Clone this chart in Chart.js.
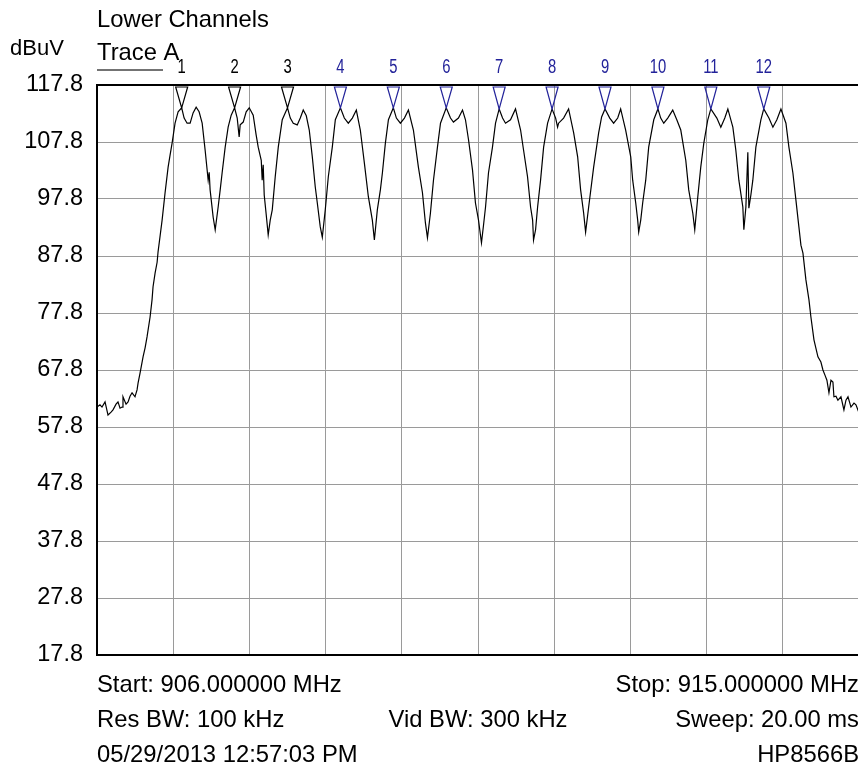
<!DOCTYPE html>
<html>
<head>
<meta charset="utf-8">
<script src="https://cdn.jsdelivr.net/npm/chart.js@4/dist/chart.umd.min.js"></script>
<style>
html, body { margin: 0; padding: 0; background: #fff; overflow: hidden; }
#wrap { position: relative; width: 864px; height: 768px; }
</style>
</head>
<body>
<div id="wrap"><canvas id="spectrumChart" width="864" height="768"></canvas></div>
<script>
// trace A (MHz / dBuV)
const traceFreqs = [
    906.000, 906.035, 906.059, 906.095, 906.130, 906.166, 906.189, 906.225, 906.248, 906.272,
    906.296, 906.307, 906.343, 906.367, 906.390, 906.414, 906.449, 906.473, 906.485, 906.509,
    906.544, 906.568, 906.591, 906.627, 906.650, 906.662, 906.686, 906.710, 906.721, 906.745,
    906.769, 906.804, 906.840, 906.863, 906.887, 906.922, 906.958, 907.000, 907.029, 907.064,
    907.100, 907.135, 907.171, 907.206, 907.242, 907.277, 907.313, 907.325, 907.336, 907.372,
    907.396, 907.431, 907.455, 907.478, 907.514, 907.549, 907.585, 907.625, 907.656, 907.679,
    907.691, 907.727, 907.762, 907.798, 907.845, 907.880, 907.904, 907.940, 907.951, 907.963,
    907.975, 907.999, 908.022, 908.046, 908.070, 908.105, 908.141, 908.188, 908.250, 908.283,
    908.318, 908.365, 908.401, 908.436, 908.472, 908.507, 908.543, 908.578, 908.602, 908.637,
    908.661, 908.696, 908.732, 908.779, 908.815, 908.875, 908.921, 908.968, 909.016, 909.063,
    909.110, 909.158, 909.205, 909.252, 909.276, 909.311, 909.347, 909.371, 909.406, 909.442,
    909.500, 909.536, 909.583, 909.631, 909.678, 909.737, 909.796, 909.844, 909.879, 909.903,
    909.938, 909.974, 910.021, 910.057, 910.125, 910.175, 910.210, 910.269, 910.317, 910.352,
    910.388, 910.435, 910.470, 910.506, 910.541, 910.565, 910.589, 910.624, 910.671, 910.707,
    910.750, 910.790, 910.825, 910.884, 910.943, 911.003, 911.038, 911.085, 911.121, 911.145,
    911.156, 911.180, 911.204, 911.239, 911.275, 911.322, 911.375, 911.417, 911.440, 911.452,
    911.511, 911.570, 911.630, 911.677, 911.712, 911.748, 911.771, 911.807, 911.866, 911.925,
    911.960, 912.000, 912.056, 912.102, 912.150, 912.185, 912.244, 912.304, 912.327, 912.363,
    912.386, 912.398, 912.422, 912.445, 912.481, 912.516, 912.576, 912.625, 912.658, 912.694,
    912.741, 912.800, 912.848, 912.895, 912.954, 912.989, 913.037, 913.060, 913.096, 913.131,
    913.167, 913.214, 913.250, 913.321, 913.368, 913.415, 913.451, 913.510, 913.545, 913.581,
    913.628, 913.640, 913.664, 913.687, 913.699, 913.723, 913.746, 913.782, 913.841, 913.875,
    913.936, 913.983, 914.030, 914.078, 914.137, 914.172, 914.219, 914.255, 914.290, 914.314,
    914.338, 914.373, 914.409, 914.432, 914.468, 914.515, 914.550, 914.574, 914.598, 914.621,
    914.645, 914.669, 914.692, 914.704, 914.728, 914.751, 914.787, 914.822, 914.846, 914.870,
    914.905, 914.941, 914.964, 915.000
];
const traceLevels = [
    61.3, 61.7, 61.3, 62.2, 59.9, 60.4, 60.8, 61.8, 62.2, 61.1,
    61.3, 63.1, 61.8, 62.2, 63.2, 63.8, 63.1, 64.3, 65.5, 67.3,
    70.1, 71.7, 73.6, 77.1, 80.1, 82.4, 84.8, 86.7, 88.5, 91.3,
    94.1, 98.9, 103.4, 105.5, 107.6, 111.1, 113.1, 113.8, 112.0, 111.1,
    111.1, 112.9, 113.9, 113.1, 111.1, 106.4, 101.1, 102.5, 99.4, 94.6,
    92.4, 96.4, 99.4, 102.4, 106.9, 110.4, 112.5, 113.8, 112.0, 108.7,
    110.8, 111.3, 113.1, 113.8, 112.5, 109.0, 106.9, 104.6, 101.1, 103.8,
    98.5, 95.0, 91.5, 94.1, 95.9, 101.7, 106.9, 111.7, 113.8, 112.0,
    111.1, 110.8, 112.0, 113.4, 112.4, 109.9, 105.2, 99.9, 97.1, 92.9,
    91.1, 95.9, 101.7, 106.9, 111.7, 113.8, 112.0, 111.1, 112.0, 113.4,
    109.9, 104.1, 98.2, 94.1, 90.6, 95.9, 99.4, 102.4, 107.6, 111.7,
    113.8, 112.0, 111.1, 112.0, 113.4, 109.9, 103.4, 98.9, 93.6, 91.0,
    95.3, 101.1, 106.9, 111.1, 113.8, 112.0, 111.3, 112.0, 113.4, 111.7,
    108.2, 102.9, 97.1, 94.1, 90.1, 93.2, 96.4, 102.4, 106.9, 111.1,
    113.6, 112.0, 111.1, 111.7, 113.6, 109.9, 106.4, 101.7, 96.4, 94.1,
    90.6, 92.4, 96.4, 101.1, 106.9, 111.1, 113.6, 112.0, 110.4, 111.1,
    112.0, 113.6, 109.4, 105.2, 99.4, 95.3, 92.0, 96.4, 103.4, 109.4,
    112.2, 113.6, 112.0, 111.1, 112.0, 113.6, 109.9, 105.2, 101.1, 97.1,
    94.1, 92.0, 94.1, 97.1, 101.1, 106.9, 111.7, 113.6, 112.0, 111.1,
    112.0, 113.4, 111.7, 109.9, 104.6, 99.4, 95.3, 92.4, 98.2, 103.4,
    107.6, 111.7, 113.6, 112.0, 110.4, 112.0, 113.6, 110.4, 106.4, 101.1,
    96.4, 92.4, 96.4, 106.0, 96.2, 98.5, 101.1, 106.9, 111.7, 113.6,
    112.0, 110.4, 111.7, 113.6, 111.1, 106.9, 102.4, 97.6, 92.9, 89.7,
    88.3, 83.6, 80.1, 77.1, 73.1, 70.1, 69.2, 67.8, 66.9, 66.0,
    63.8, 66.0, 65.7, 63.1, 63.2, 62.5, 63.1, 60.8, 62.5, 63.1,
    61.3, 62.0, 61.7, 60.3
];

const markerNumbers = [1, 2, 3, 4, 5, 6, 7, 8, 9, 10, 11, 12];
const markerFreqs = [907.000, 907.625, 908.250, 908.875, 909.500, 910.125, 910.750, 911.375, 912.000, 912.625, 913.250, 913.875];
const markerLevels = [113.8, 113.8, 113.8, 113.8, 113.8, 113.8, 113.6, 113.6, 113.6, 113.6, 113.6, 113.6];

const yTickValues = [17.8, 27.8, 37.8, 47.8, 57.8, 67.8, 77.8, 87.8, 97.8, 107.8, 117.8];
const xGridFreqs = [906.0, 906.9, 907.8, 908.7, 909.6, 910.5, 911.4, 912.3, 913.2, 914.1, 915.0];

const FONT = "'Liberation Sans', Arial, Helvetica, sans-serif";
const MARKER_BLUE = '#23239a';

const spectrumCtx = document.getElementById('spectrumChart').getContext('2d');

const annotationPlugin = {
    id: 'analyzerText',
    afterDatasetsDraw(chart) {
        const { ctx, chartArea, scales } = chart;
        const x = scales.x;
        const y = scales.y;

        ctx.save();
        // top frame line
        ctx.strokeStyle = '#000';
        ctx.lineWidth = 2;
        ctx.beginPath();
        ctx.moveTo(chartArea.left - 1, chartArea.top);
        ctx.lineTo(chartArea.right, chartArea.top);
        ctx.stroke();

        // markers
        markerFreqs.forEach((f, i) => {
            const px = x.getPixelForValue(f);
            const py = y.getPixelForValue(markerLevels[i]);
            const color = i < 3 ? '#000' : MARKER_BLUE;
            ctx.strokeStyle = color;
            ctx.lineWidth = 1.2;
            ctx.beginPath();
            ctx.moveTo(px - 6, chartArea.top + 2);
            ctx.lineTo(px + 6, chartArea.top + 2);
            ctx.lineTo(px, py);
            ctx.closePath();
            ctx.stroke();

            ctx.save();
            ctx.fillStyle = color;
            ctx.font = '20px ' + FONT;
            ctx.textAlign = 'center';
            ctx.textBaseline = 'alphabetic';
            ctx.translate(px, 73);
            ctx.scale(0.74, 1);
            ctx.fillText(String(markerNumbers[i]), 0, 0);
            ctx.restore();
        });

        // header and footer text
        ctx.fillStyle = '#000';
        ctx.textBaseline = 'alphabetic';
        ctx.textAlign = 'left';
        ctx.font = '23.8px ' + FONT;
        ctx.fillText('Lower Channels', chartArea.left, 27);
        ctx.fillText('Trace A', chartArea.left, 60);
        ctx.font = '22px ' + FONT;
        ctx.fillText('dBuV', 10, 55);

        ctx.strokeStyle = '#444';
        ctx.lineWidth = 1.5;
        ctx.beginPath();
        ctx.moveTo(chartArea.left, 70);
        ctx.lineTo(chartArea.left + 66, 70);
        ctx.stroke();

        ctx.font = '23.8px ' + FONT;
        const right = chartArea.right;
        const mid = (chartArea.left + chartArea.right) / 2;
        ctx.fillText('Start: 906.000000 MHz', chartArea.left, 692);
        ctx.fillText('Res BW: 100 kHz', chartArea.left, 727);
        ctx.fillText('05/29/2013 12:57:03 PM', chartArea.left, 762);
        ctx.textAlign = 'center';
        ctx.fillText('Vid BW: 300 kHz', mid, 727);
        ctx.textAlign = 'right';
        ctx.fillText('Stop: 915.000000 MHz', right, 692);
        ctx.fillText('Sweep: 20.00 ms', right, 727);
        ctx.fillText('HP8566B', right, 762);
        ctx.restore();
    }
};

const spectrumChart = new Chart(spectrumCtx, {
    type: 'line',
    data: {
        datasets: [{
            data: traceFreqs.map((f, i) => ({ x: f, y: traceLevels[i] })),
            borderColor: '#000',
            borderWidth: 1.2,
            pointRadius: 0,
            tension: 0,
            fill: false
        }]
    },
    options: {
        responsive: false,
        animation: false,
        layout: {
            padding: { left: 0, top: 85, right: 5, bottom: 113 }
        },
        plugins: {
            legend: { display: false },
            tooltip: { enabled: false }
        },
        scales: {
            x: {
                type: 'linear',
                min: 906,
                max: 915,
                afterBuildTicks: function(scale) {
                    scale.ticks = xGridFreqs.map(v => ({ value: v }));
                },
                afterFit: function(scale) {
                    scale.height = 0;
                },
                ticks: { display: false },
                grid: {
                    color: '#9a9a9a',
                    lineWidth: 1,
                    drawTicks: false
                },
                border: { color: '#000', width: 2 }
            },
            y: {
                min: 17.8,
                max: 117.8,
                afterBuildTicks: function(scale) {
                    scale.ticks = yTickValues.map(v => ({ value: v }));
                },
                afterFit: function(scale) {
                    scale.width = 97;
                },
                ticks: {
                    color: '#000',
                    padding: 14,
                    font: { family: FONT, size: 23.5 },
                    callback: function(value) {
                        return Number(value).toFixed(1);
                    }
                },
                grid: {
                    color: '#9a9a9a',
                    lineWidth: 1,
                    drawTicks: false
                },
                border: { color: '#000', width: 2 }
            }
        }
    },
    plugins: [annotationPlugin]
});
</script>
</body>
</html>
